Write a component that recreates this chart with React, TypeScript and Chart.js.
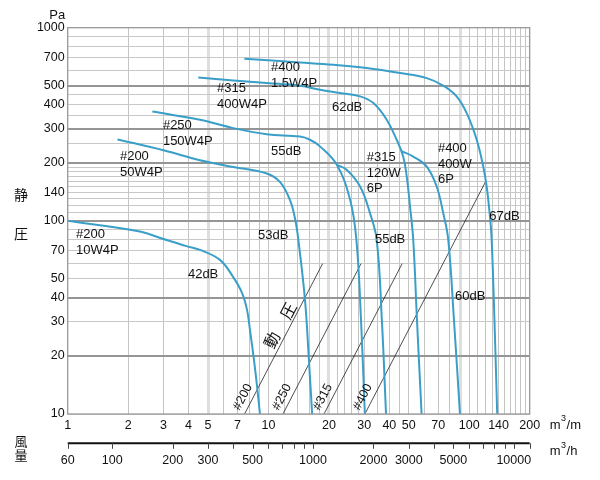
import React, { useEffect, useRef } from "react";
import { Chart, registerables } from "chart.js";

Chart.register(...registerables);

const FONT = '"Liberation Sans", Arial, Helvetica, sans-serif';
const CJK = '"Noto Sans CJK JP", "Noto Sans CJK SC", sans-serif';

// ---- axes ----
const X_TICK_LABELS = [1, 2, 3, 4, 5, 7, 10, 20, 30, 40, 50, 70, 100, 140, 200];
const Y_TICK_LABELS = [10, 20, 30, 40, 50, 70, 100, 140, 200, 300, 400, 500, 700, 1000];
const X_GRID = [1, 2, 3, 4, 5, 6, 7, 8, 9, 10, 12, 14, 16, 18, 20, 22, 24, 26, 28, 30, 35, 40, 45, 50, 60, 70, 80, 90, 100, 110, 120, 130, 140, 150, 160, 170, 180, 190, 200];
const Y_GRID = [10, 20, 30, 40, 50, 60, 70, 80, 90, 100, 110, 120, 130, 140, 150, 160, 170, 180, 190, 200, 250, 300, 350, 400, 450, 500, 600, 700, 800, 900, 1000];
const Y_GRID_BOLD = [20, 40, 100, 200, 300, 500];
const X_GRID_LIGHT = [5, 20, 90];
const FLOW_H_LABELS = [60, 100, 200, 300, 500, 1000, 2000, 3000, 5000, 10000];
const FLOW_H_TICKS = [60, 100, 200, 300, 400, 500, 600, 700, 800, 900, 1000, 2000, 3000, 4000, 5000, 6000, 7000, 8000, 9000, 10000, 12000];

// ---- fan curves (Q: m3/min, P: Pa) ----
const F200_10W_Q = [1, 2.29, 3, 3.9, 4.56, 5.73, 6.66, 7.38, 7.82, 8.09, 8.47, 8.76, 9.07];
const F200_10W_P = [100, 88, 80.5, 74, 70.7, 62.8, 51.3, 42.4, 34.6, 27.2, 19, 14.1, 10];

const F200_50W_Q = [1.77, 3, 4.56, 6.68, 9.8, 11.4, 12.8, 13.6, 14.1, 15.2, 15.9, 16.5];
const F200_50W_P = [264, 232, 206, 190, 176, 159, 128, 101, 79, 39, 19, 10];

const F250_150W_Q = [2.64, 4.56, 6.68, 9.8, 14.35, 16.1, 18.05, 21.9, 25.5, 27.4, 28.9, 30.2];
const F250_150W_P = [368, 334, 302, 281, 273, 263, 243, 195, 128.5, 80, 30.7, 10];

const F315_120W_Q = [21.9, 24.5, 28.6, 32.0, 34.6, 36.7, 38.5];
const F315_120W_P = [195, 184, 150.6, 110, 79.8, 30.7, 10];

const F315_400W_Q = [4.47, 6.68, 9.8, 14.35, 18.05, 22.7, 28.6, 33.3, 38.8, 43.5, 46.9, 48.8, 50.7, 52.6, 54.9, 57.9];
const F315_400W_P = [553, 533, 517, 501, 477, 459, 441, 407, 334, 263, 215, 170, 118.6, 79.8, 30.7, 10];

const F400_400W_Q = [45.8, 52.6, 61.4, 68.8, 74.2, 78.6, 83.9, 89.9];
const F400_400W_P = [230, 215, 191, 150.6, 109.6, 79.8, 30.7, 10];

const F400_15W_Q = [7.58, 14.35, 21.0, 30.8, 45.2, 61.4, 74.2, 86.5, 97.1, 108.9, 117.4, 122.1, 126.8, 129.3, 133.5, 137.8];
const F400_15W_P = [691, 661, 643, 618, 582, 548, 501, 441, 361, 263, 191, 150.6, 105, 79.8, 30.7, 10];

const CURVES = [
  [F200_10W_Q, F200_10W_P],
  [F200_50W_Q, F200_50W_P],
  [F250_150W_Q, F250_150W_P],
  [F315_120W_Q, F315_120W_P],
  [F315_400W_Q, F315_400W_P],
  [F400_400W_Q, F400_400W_P],
  [F400_15W_Q, F400_15W_P],
];

// ---- dynamic pressure lines ----
const DP_SIZES = ["#200", "#250", "#315", "#400"];
const DP_Q_LOW = [7.6, 11.8, 18.9, 30.2];
const DP_P_LOW = [10, 10, 10, 10];
const DP_Q_HIGH = [18.6, 28.9, 46.3, 120.4];
const DP_P_HIGH = [60, 60, 60, 159];
const DP_LABEL_Q = [7.46, 11.68, 18.67, 29.5];
const DP_LABEL_P = [12.25, 12.25, 12.25, 12.25];

// ---- annotations (anchored in data coordinates) ----
const CURVE_LABELS = [
  { lines: ["#200", "10W4P"], q: 1.1, p: 84.6 },
  { lines: ["42dB"], q: 3.97, p: 52.5 },
  { lines: ["#200", "50W4P"], q: 1.82, p: 214.6 },
  { lines: ["53dB"], q: 8.87, p: 83.6 },
  { lines: ["#250", "150W4P"], q: 2.98, p: 310.6 },
  { lines: ["55dB"], q: 10.29, p: 227.8 },
  { lines: ["#315", "400W4P"], q: 5.54, p: 483 },
  { lines: ["#400", "1.5W4P"], q: 10.29, p: 620 },
  { lines: ["62dB"], q: 20.7, p: 385 },
  { lines: ["#315", "120W", "6P"], q: 30.9, p: 212 },
  { lines: ["#400", "400W", "6P"], q: 69.8, p: 236 },
  { lines: ["67dB"], q: 125.9, p: 104.9 },
  { lines: ["55dB"], q: 33.9, p: 79.7 },
  { lines: ["60dB"], q: 84.9, p: 40.4 },
];
const DYN_TITLE = ["動", "圧"];
const DYN_TITLE_Q = [10.4, 12.5];
const DYN_TITLE_P = [24.2, 34.2];

const CURVE_COLOR = "#3a9fc8";

function drawUnit(ctx: CanvasRenderingContext2D, x: number, y: number, unit: string) {
  ctx.textAlign = "left";
  ctx.textBaseline = "middle";
  ctx.font = `13px ${FONT}`;
  ctx.fillText("m", x, y);
  const w = ctx.measureText("m").width;
  ctx.font = `9px ${FONT}`;
  ctx.fillText("3", x + w + 0.5, y - 6);
  const w3 = ctx.measureText("3").width;
  ctx.font = `13px ${FONT}`;
  ctx.fillText("/" + unit, x + w + w3 + 1, y);
}

const overlay = {
  id: "overlay",
  afterDatasetsDraw(chart: any) {
    const { ctx, chartArea: a } = chart;
    const xs = chart.scales.x;
    const ys = chart.scales.y;
    ctx.save();

    // frame
    ctx.strokeStyle = "#9a9a9a";
    ctx.lineWidth = 1.3;
    ctx.strokeRect(a.left, a.top, a.right - a.left, a.bottom - a.top);

    // curve labels
    ctx.fillStyle = "#111";
    ctx.font = `13px ${FONT}`;
    ctx.textAlign = "left";
    ctx.textBaseline = "middle";
    for (const l of CURVE_LABELS) {
      const x = xs.getPixelForValue(l.q);
      const y = ys.getPixelForValue(l.p);
      l.lines.forEach((t, i) => ctx.fillText(t, x, y + i * 15.5));
    }

    // dynamic pressure labels (rotated along lines)
    const ang = Math.atan2(
      ys.getPixelForValue(DP_P_HIGH[0]) - ys.getPixelForValue(DP_P_LOW[0]),
      xs.getPixelForValue(DP_Q_HIGH[0]) - xs.getPixelForValue(DP_Q_LOW[0])
    );
    ctx.textAlign = "center";
    DP_SIZES.forEach((s, i) => {
      ctx.save();
      ctx.translate(xs.getPixelForValue(DP_LABEL_Q[i]), ys.getPixelForValue(DP_LABEL_P[i]));
      ctx.rotate(ang);
      ctx.font = `12.5px ${FONT}`;
      ctx.fillText(s, 0, 0);
      ctx.restore();
    });
    DYN_TITLE.forEach((s, i) => {
      ctx.save();
      ctx.translate(xs.getPixelForValue(DYN_TITLE_Q[i]), ys.getPixelForValue(DYN_TITLE_P[i]));
      ctx.rotate(ang);
      ctx.font = `16px ${CJK}`;
      ctx.fillText(s, 0, 0);
      ctx.restore();
    });

    // axis titles
    ctx.textAlign = "center";
    ctx.font = `13px ${FONT}`;
    ctx.fillText("Pa", a.left - 10.5, a.top - 12);
    ctx.font = `14px ${CJK}`;
    ctx.fillText("静", 21, ys.getPixelForValue(137));
    ctx.fillText("圧", 21, ys.getPixelForValue(85.5));
    ctx.font = `13px ${CJK}`;
    ctx.fillText("風", 21, a.bottom + 27);
    ctx.fillText("量", 21, a.bottom + 41);

    // m3/min unit
    drawUnit(ctx, a.right + 20, a.bottom + 11, "m");

    // secondary axis m3/h
    const yAx = a.bottom + 29.3;
    ctx.strokeStyle = "#111";
    ctx.lineWidth = 2;
    ctx.beginPath();
    ctx.moveTo(a.left, yAx);
    ctx.lineTo(a.right, yAx);
    ctx.stroke();
    ctx.lineWidth = 1;
    ctx.strokeStyle = "#444";
    for (const v of FLOW_H_TICKS) {
      const px = Math.round(xs.getPixelForValue(v / 60)) + 0.5;
      ctx.beginPath();
      ctx.moveTo(px, yAx);
      ctx.lineTo(px, yAx + 5.5);
      ctx.stroke();
    }
    ctx.fillStyle = "#111";
    ctx.font = `12.5px ${FONT}`;
    ctx.textAlign = "center";
    ctx.textBaseline = "middle";
    for (const v of FLOW_H_LABELS) {
      ctx.fillText(String(v), xs.getPixelForValue(v / 60), yAx + 17);
    }
    drawUnit(ctx, a.right + 20, yAx + 8, "h");

    ctx.restore();
  },
};

export default function App() {
  const ref = useRef<HTMLCanvasElement | null>(null);

  useEffect(() => {
    if (!ref.current) return;
    const datasets: any[] = CURVES.map(([q, p]) => ({
      data: q.map((x, i) => ({ x, y: p[i] })),
      showLine: true,
      borderColor: CURVE_COLOR,
      borderWidth: 2,
      pointRadius: 0,
      fill: false,
      tension: 0.4,
    }));
    DP_SIZES.forEach((_, i) => {
      datasets.push({
        data: [
          { x: DP_Q_LOW[i], y: DP_P_LOW[i] },
          { x: DP_Q_HIGH[i], y: DP_P_HIGH[i] },
        ],
        showLine: true,
        borderColor: "#222",
        borderWidth: 0.8,
        pointRadius: 0,
        fill: false,
      });
    });

    const chart = new Chart(ref.current, {
      type: "scatter",
      data: { datasets },
      options: {
        animation: false,
        responsive: false,
        devicePixelRatio: 1,
        layout: { padding: { top: 27.7, right: 70.3, bottom: 0, left: 0 } },
        plugins: { legend: { display: false }, tooltip: { enabled: false } },
        scales: {
          x: {
            type: "logarithmic",
            min: 1,
            max: 200,
            afterBuildTicks: (s: any) => {
              s.ticks = X_GRID.map((v) => ({ value: v }));
            },
            afterFit: (s: any) => {
              s.height = 66;
            },
            ticks: {
              autoSkip: false,
              maxRotation: 0,
              minRotation: 0,
              padding: 4,
              color: "#111",
              font: { size: 12.5, family: FONT },
              callback: (v: any) => (X_TICK_LABELS.includes(Number(v)) ? String(v) : ""),
            },
            grid: {
              drawTicks: false,
              color: (c: any) => (c.tick && X_GRID_LIGHT.includes(c.tick.value) ? "#dedede" : "#c4c4c4"),
              lineWidth: (c: any) => (c.tick && X_GRID_LIGHT.includes(c.tick.value) ? 3 : 1),
            },
            border: { display: false },
          },
          y: {
            type: "logarithmic",
            min: 10,
            max: 1000,
            afterBuildTicks: (s: any) => {
              s.ticks = Y_GRID.map((v) => ({ value: v }));
            },
            afterFit: (s: any) => {
              s.width = 67.7;
            },
            ticks: {
              autoSkip: false,
              padding: 3,
              color: "#111",
              font: { size: 12.5, family: FONT },
              callback: (v: any) => (Y_TICK_LABELS.includes(Number(v)) ? String(v) : ""),
            },
            grid: {
              drawTicks: false,
              color: (c: any) => (c.tick && Y_GRID_BOLD.includes(c.tick.value) ? "#959595" : "#c8c8c8"),
              lineWidth: (c: any) => (c.tick && Y_GRID_BOLD.includes(c.tick.value) ? 2 : 1),
            },
            border: { display: false },
          },
        },
      },
      plugins: [overlay],
    } as any);
    return () => chart.destroy();
  }, []);

  return (
    <div style={{ position: "absolute", left: 0, top: 0, width: 600, height: 480, background: "#fff" }}>
      <canvas ref={ref} width={600} height={480} />
    </div>
  );
}
